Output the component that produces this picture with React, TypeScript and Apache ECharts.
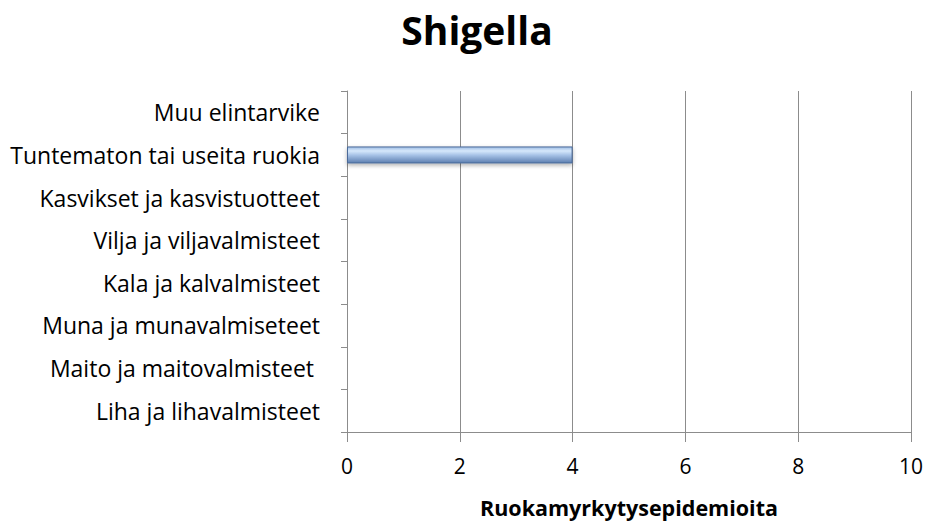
import React, { useEffect, useRef } from "react";
import * as echarts from "echarts";

const categories = [
  "Liha ja lihavalmisteet",
  "Maito ja maitovalmisteet ",
  "Muna ja munavalmiseteet",
  "Kala ja kalvalmisteet",
  "Vilja ja viljavalmisteet",
  "Kasvikset ja kasvistuotteet",
  "Tuntematon tai useita ruokia",
  "Muu elintarvike",
];
const values = [0, 0, 0, 0, 0, 0, 4, 0];
const titleText = "Shigella";
const xAxisName = "Ruokamyrkytysepidemioita";

const FONT = "'Open Sans', 'Noto Sans', sans-serif";

export default function App() {
  const ref = useRef<HTMLDivElement>(null);
  useEffect(() => {
    if (!ref.current) return;
    const chart = echarts.init(ref.current, null, { renderer: "svg" });
    chart.setOption({
      animation: false,
      backgroundColor: "#ffffff",
      title: {
        text: titleText,
        left: 472,
        textAlign: "center",
        top: 5,
        textStyle: { fontFamily: FONT, fontSize: 39, fontWeight: "bold", color: "#000" },
      },
      grid: { left: 347, right: 16, top: 91, bottom: 93, containLabel: false },
      xAxis: {
        type: "value",
        min: 0,
        max: 10,
        interval: 2,
        name: xAxisName,
        nameLocation: "middle",
        nameGap: 64,
        nameTextStyle: { fontFamily: FONT, fontSize: 21.5, fontWeight: "bold", color: "#000" },
        axisLine: { show: true, lineStyle: { color: "#8c8c8c", width: 1 } },
        axisTick: { show: true, length: 10, inside: false, lineStyle: { color: "#8c8c8c" } },
        axisLabel: { fontFamily: FONT, fontSize: 21, color: "#000", margin: 23 },
        splitLine: { show: true, lineStyle: { color: "#8c8c8c", width: 1 } },
      },
      yAxis: {
        type: "category",
        data: categories,
        axisLine: { show: true, lineStyle: { color: "#8c8c8c", width: 1 } },
        axisTick: { show: true, length: 6, lineStyle: { color: "#8c8c8c" } },
        axisLabel: { fontFamily: FONT, fontSize: 23, color: "#000", margin: 27 },
        splitLine: { show: false },
      },
      series: [
        {
          type: "bar",
          data: values,
          barWidth: 17,
          itemStyle: {
            color: new echarts.graphic.LinearGradient(0, 0, 0, 1, [
              { offset: 0, color: "#9dbbe3" },
              { offset: 0.25, color: "#d6e8fb" },
              { offset: 0.5, color: "#a9c4e8" },
              { offset: 1, color: "#5d7fb0" },
            ]),
            borderColor: "#4a6a99",
            borderWidth: 1,
            shadowColor: "rgba(0,0,0,0.3)",
            shadowBlur: 4,
            shadowOffsetY: 2,
          },
        },
      ],
    });
    return () => chart.dispose();
  }, []);
  return <div ref={ref} style={{ width: 927, height: 525, position: "absolute", left: 0, top: 0 }} />;
}
